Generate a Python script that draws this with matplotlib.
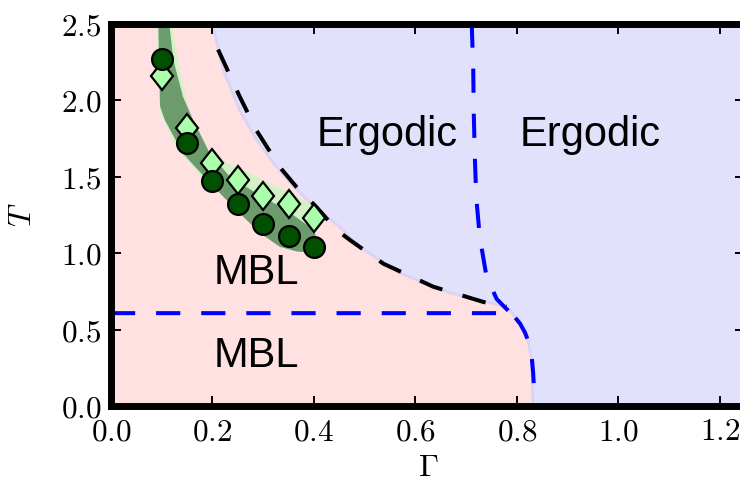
import matplotlib
matplotlib.use("Agg")
import matplotlib.pyplot as plt
from matplotlib.ticker import FuncFormatter
from matplotlib.markers import MarkerStyle
from matplotlib.transforms import Affine2D

plt.rcParams["mathtext.fontset"] = "cm"

# --- phase boundary between MBL (pink) and ergodic (lavender) regions ---
boundary_gamma = [0.200, 0.221, 0.254, 0.287, 0.320, 0.353, 0.386, 0.425, 0.451,
                  0.490, 0.569, 0.668, 0.766, 0.786, 0.806, 0.822, 0.829, 0.831, 0.832]
boundary_T = [2.50, 2.20, 1.93, 1.74, 1.59, 1.46, 1.35, 1.24, 1.17,
              1.04, 0.87, 0.74, 0.66, 0.63, 0.54, 0.43, 0.30, 0.10, 0.00]

# --- black dashed transition line ---
black_gamma = [0.211, 0.254, 0.287, 0.333, 0.366, 0.405, 0.445, 0.471, 0.537, 0.635, 0.734, 0.780]
black_T = [2.33, 2.02, 1.80, 1.56, 1.43, 1.30, 1.15, 1.085, 0.93, 0.78, 0.68, 0.65]

# --- blue dashed lines ---
blue_v_gamma = [0.711, 0.714, 0.715, 0.717, 0.720, 0.727, 0.740, 0.760, 0.785]
blue_v_T = [2.50, 2.20, 1.92, 1.64, 1.36, 1.10, 0.85, 0.70, 0.616]
blue_h_gamma = [0.0, 0.785, 0.796, 0.806, 0.816, 0.824, 0.829, 0.832, 0.834, 0.835]
blue_h_T = [0.607, 0.607, 0.58, 0.54, 0.48, 0.41, 0.33, 0.22, 0.10, 0.0]

# --- numerical data points ---
gamma_pts = [0.10, 0.15, 0.20, 0.25, 0.30, 0.35, 0.40]
T_circles = [2.27, 1.72, 1.47, 1.32, 1.19, 1.11, 1.04]
T_diamonds = [2.16, 1.82, 1.59, 1.48, 1.37, 1.32, 1.23]

# --- uncertainty bands ---
dark_up_gamma = [0.113, 0.123, 0.142, 0.162, 0.195, 0.234, 0.287, 0.346, 0.400, 0.408]
dark_up_T = [2.55, 2.26, 2.02, 1.87, 1.65, 1.50, 1.39, 1.28, 1.15, 1.07]
dark_lo_gamma = [0.403, 0.366, 0.333, 0.294, 0.241, 0.189, 0.142, 0.106, 0.0966, 0.093]
dark_lo_T = [1.00, 1.01, 1.04, 1.13, 1.30, 1.48, 1.65, 1.87, 1.96, 2.55]

light_up_gamma = [0.117, 0.135, 0.156, 0.189, 0.228, 0.287, 0.353, 0.405, 0.412]
light_up_T = [2.55, 2.20, 1.89, 1.67, 1.59, 1.50, 1.39, 1.30, 1.20]
light_lo_gamma = [0.400, 0.379, 0.300, 0.190, 0.129, 0.098, 0.090]
light_lo_T = [1.12, 1.13, 1.20, 1.45, 1.69, 1.91, 2.55]

xticks = [0.0, 0.2, 0.4, 0.6, 0.8, 1.0, 1.2]
yticks = [0.0, 0.5, 1.0, 1.5, 2.0, 2.5]

fig = plt.figure(figsize=(7.4, 4.9), dpi=100)
ax = fig.add_axes([0.15, 0.1714, 0.857, 0.7806])
ax.set_xlim(0, 1.25)
ax.set_ylim(0, 2.5)
ax.set_facecolor("#e1e1fc")

# MBL region
mbl_x = [0.0, boundary_gamma[-1]] + boundary_gamma[::-1] + [0.0]
mbl_y = [0.0, 0.0] + boundary_T[::-1] + [2.5]
ax.fill(mbl_x, mbl_y, facecolor="#ffe1e1", edgecolor="#dcd2f2", linewidth=2.0, zorder=1)

# bands
ax.fill(light_up_gamma + light_lo_gamma, light_up_T + light_lo_T,
        facecolor="#d2f2c6", edgecolor="none", zorder=2)
ax.fill(dark_up_gamma + dark_lo_gamma, dark_up_T + dark_lo_T,
        facecolor="#6c9c6c", edgecolor="none", zorder=3)

# dashed lines
dash = (6, 5.2)
ax.plot(black_gamma, black_T, color="black", lw=2.9, dashes=dash, zorder=4)
ax.plot(blue_v_gamma, blue_v_T, color="#0000ff", lw=2.9, dashes=dash, zorder=4)
ax.plot(blue_h_gamma, blue_h_T, color="#0000ff", lw=2.9, dashes=dash, zorder=4)

# markers
diamond = MarkerStyle("D", transform=Affine2D().scale(0.75, 1.0))
ax.plot(gamma_pts, T_diamonds, linestyle="none", marker=diamond, markersize=14.5,
        markerfacecolor="#aaffaa", markeredgecolor="black", markeredgewidth=1.6, zorder=5)
ax.plot(gamma_pts, T_circles, linestyle="none", marker="o", markersize=15,
        markerfacecolor="#005000", markeredgecolor="black", markeredgewidth=1.6, zorder=6)

# region labels
txt = dict(fontsize=30, family="Liberation Sans", color="black", zorder=7)
ax.text(0.405, 1.70, "Ergodic", ha="left", va="baseline", **txt)
ax.text(0.806, 1.70, "Ergodic", ha="left", va="baseline", **txt)
ax.text(0.2016, 0.797, "MBL", ha="left", va="baseline", **txt)
ax.text(0.2016, 0.253, "MBL", ha="left", va="baseline", **txt)

# axes styling
for s in ax.spines.values():
    s.set_linewidth(5)
    s.set_zorder(10)
ax.set_xticks(xticks)
ax.set_yticks(yticks)
fmt = FuncFormatter(lambda v, p: r"$%.1f$" % v)
ax.xaxis.set_major_formatter(fmt)
ax.yaxis.set_major_formatter(fmt)
ax.tick_params(direction="in", length=7, width=1.4, top=True, right=True,
               labelsize=22.5, zorder=11)
ax.tick_params(axis="x", pad=8)
ax.tick_params(axis="y", pad=7)
ax.set_xlabel(r"$\Gamma$", fontsize=23, labelpad=4)
ax.set_ylabel(r"$T$", fontsize=23, labelpad=16)

fig.savefig("out.png", dpi=100)
